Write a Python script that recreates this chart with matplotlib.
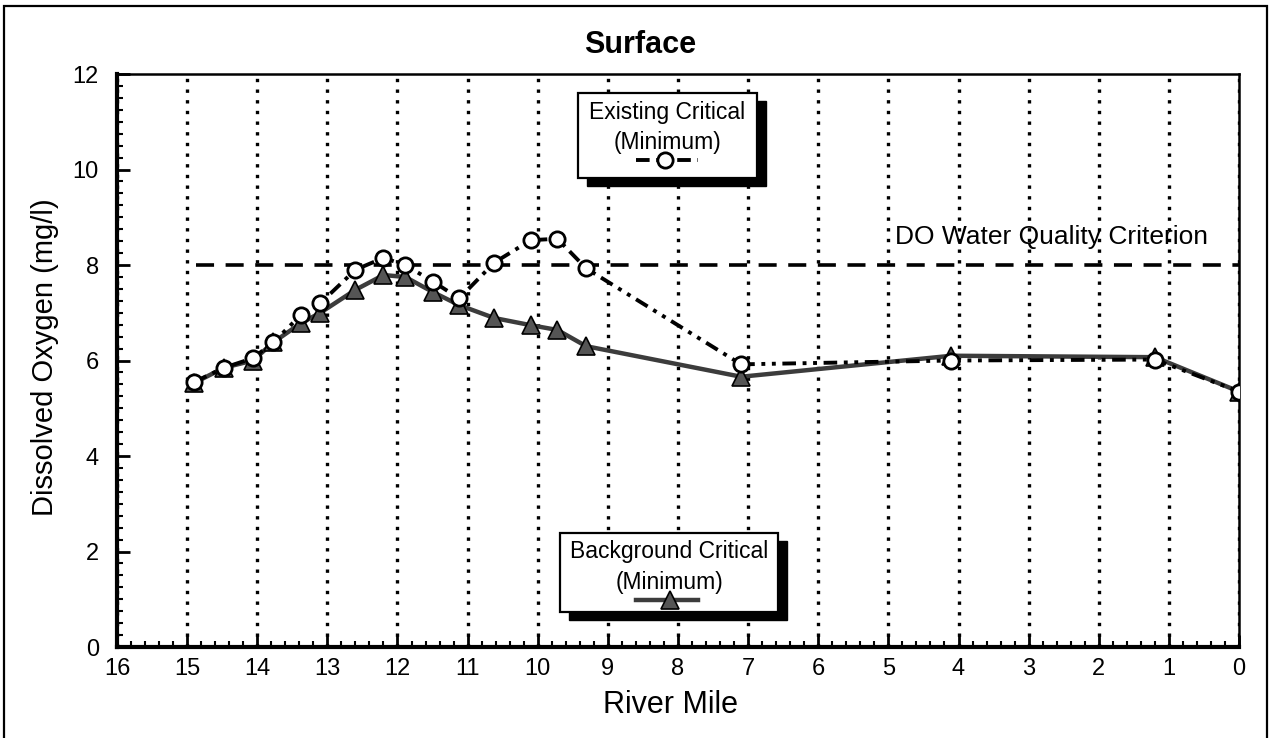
import matplotlib
matplotlib.use("Agg")
import matplotlib.pyplot as plt
from matplotlib.patches import Rectangle
from matplotlib.lines import Line2D
from matplotlib.ticker import MultipleLocator

plt.rcParams['font.family'] = ['Liberation Sans', 'DejaVu Sans']

# river mile stations (same for both runs)
river_mile = [14.9, 14.47, 14.06, 13.77, 13.38, 13.1, 12.6, 12.2, 11.89, 11.49,
              11.12, 10.62, 10.1, 9.72, 9.31, 7.1, 4.1, 1.2, 0.0]
existing_do = [5.55, 5.85, 6.05, 6.38, 6.95, 7.2, 7.9, 8.15, 8.0, 7.65,
               7.3, 8.05, 8.52, 8.55, 7.93, 5.92, 6.0, 6.02, 5.35]
background_do = [5.53, 5.85, 6.0, 6.38, 6.78, 7.0, 7.48, 7.79, 7.75, 7.43,
                 7.16, 6.89, 6.74, 6.64, 6.3, 5.66, 6.1, 6.07, 5.35]
do_criterion = 8.0
criterion_span = [14.87, 0.0]

fig = plt.figure(figsize=(12.7, 7.38), dpi=100)
ax = fig.add_axes([0.0921, 0.1233, 0.8835, 0.7764])

# outer frame around the whole page
fig.patches.append(Rectangle((0.003, -0.02), 0.9945, 1.012, transform=fig.transFigure,
                             fill=False, lw=1.6, ec='black'))

ax.set_xlim(16, 0)
ax.set_ylim(0, 12)
ax.xaxis.set_major_locator(MultipleLocator(1))
ax.xaxis.set_minor_locator(MultipleLocator(0.2))
ax.yaxis.set_major_locator(MultipleLocator(2))
ax.yaxis.set_minor_locator(MultipleLocator(0.25))
ax.tick_params(which='both', direction='in', top=False, right=False, color='black')
ax.tick_params(which='major', length=9, width=2, labelsize=17)
ax.tick_params(which='minor', length=4, width=1.5)
ax.tick_params(axis='x', which='major', pad=8)
ax.tick_params(axis='y', which='major', pad=13)
for side in ['left', 'bottom']:
    ax.spines[side].set_linewidth(3)
for side in ['top', 'right']:
    ax.spines[side].set_linewidth(1.8)

ax.grid(axis='x', which='major', color='black', lw=2.4, linestyle=(0, (1, 2.2)))
ax.set_axisbelow(True)

# criterion line
ax.hlines(do_criterion, criterion_span[0], criterion_span[1], colors='black',
          lw=2.6, linestyles=(0, (5, 3.2)), zorder=2)
ax.text(4.9, do_criterion + 0.58, 'DO Water Quality Criterion', fontsize=19,
        ha='left', va='center')

bg_kw = dict(color='#3c3c3c', lw=3.2, marker='^', ms=13, mfc='#555555', mec='black', mew=1.2)
ex_kw = dict(color='black', lw=2.8, linestyle=(0, (3.5, 1.7, 1, 1.7, 1, 1.7)),
             marker='o', ms=11, mfc='white', mec='black', mew=2)

ax.plot(river_mile, background_do, zorder=3, **bg_kw)
ax.plot(river_mile, existing_do, zorder=4, **ex_kw)

ax.set_xlabel('River Mile', fontsize=22, va='center')
ax.xaxis.set_label_coords(0.493, -0.101)
ax.set_ylabel('Dissolved Oxygen (mg/l)', fontsize=21, va='center')
ax.yaxis.set_label_coords(-0.064, 0.505)
ax.text(0.466, 1.051, 'Surface', transform=ax.transAxes, fontsize=22, fontweight='bold',
        ha='center', va='center')


def legend_box(x0, y0, x1, y1, lines, text_ys, sample_y, sample_x, marker_x, style):
    sdx, sdy = 0.008, -0.014
    ax.add_patch(Rectangle((x0 + sdx, y0 + sdy), x1 - x0, y1 - y0, transform=ax.transAxes,
                           fc='black', ec='black', zorder=6, clip_on=False))
    ax.add_patch(Rectangle((x0, y0), x1 - x0, y1 - y0, transform=ax.transAxes,
                           fc='white', ec='black', lw=1.6, zorder=7, clip_on=False))
    for s, ty in zip(lines, text_ys):
        ax.text((x0 + x1) / 2, ty, s, transform=ax.transAxes, ha='center', va='center',
                fontsize=16.5, zorder=8)
    line_kw = {k: v for k, v in style.items() if k not in ('marker', 'ms', 'mfc', 'mec', 'mew')}
    ax.add_line(Line2D(sample_x, [sample_y, sample_y], transform=ax.transAxes,
                       zorder=8, **line_kw))
    ax.add_line(Line2D([marker_x], [sample_y], transform=ax.transAxes, zorder=9,
                       linestyle='None', marker=style['marker'], ms=style['ms'],
                       mfc=style['mfc'], mec=style['mec'], mew=style['mew']))


legend_box(0.411, 0.818, 0.570, 0.967, ['Existing Critical', '(Minimum)'],
           [0.932, 0.880], 0.850, [0.463, 0.518], 0.488, ex_kw)
legend_box(0.395, 0.061, 0.589, 0.199, ['Background Critical', '(Minimum)'],
           [0.166, 0.112], 0.082, [0.463, 0.518], 0.493, bg_kw)

fig.savefig('out.png', dpi=100)
